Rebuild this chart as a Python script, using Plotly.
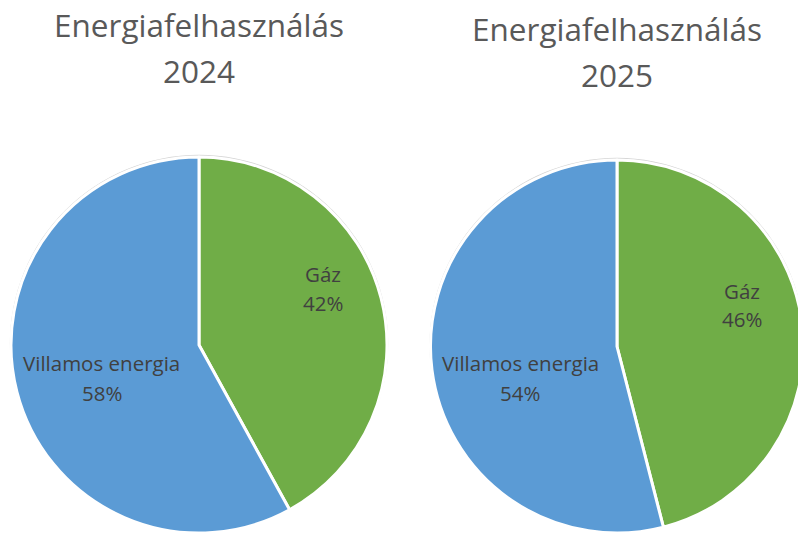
import plotly.graph_objects as go

title_text = "Energiafelhasználás"
years = ["2024", "2025"]
labels = ["Gáz", "Villamos energia"]
values_2024 = [42, 58]
values_2025 = [46, 54]
colors = ["#70AD47", "#5B9BD5"]

W, H = 810, 533

def dom_x(a, b):
    return [a / W, b / W]

def dom_y(top, bottom):
    return [1 - bottom / H, 1 - top / H]

pies = [
    (values_2024, (11, 387, 157, 533)),
    (values_2025, (430, 804, 160, 533)),
]

fig = go.Figure()
for vals, (x0, x1, y0, y1) in pies:
    e = 2.2
    # faint outline ring behind the pie
    fig.add_trace(go.Pie(
        values=[1], labels=[""], sort=False, textinfo="none", hoverinfo="skip",
        marker=dict(colors=["#d4d4d4"], line=dict(width=0)),
        domain=dict(x=[max(0, (x0 - e) / W), min(1, (x1 + e) / W)],
                    y=[max(0, 1 - (y1 + e) / H), min(1, 1 - (y0 - e) / H)]),
        showlegend=False,
    ))
    fig.add_trace(go.Pie(
        labels=labels, values=vals, sort=False, direction="clockwise", rotation=0,
        marker=dict(colors=colors, line=dict(color="white", width=3)),
        textinfo="none",
        domain=dict(x=dom_x(x0, x1), y=dom_y(y0, y1)), showlegend=False,
        hoverinfo="label+percent",
    ))

title_font = dict(family="Open Sans", size=31.5, color="#595959")
label_font = dict(family="Open Sans", size=20.5, color="#404040")

# title layout: (center x, line1 y, line2 y) in pixels
title_pos = [(198.5, 24, 71), (617, 28, 74)]
annos = []
for (cx, ya, yb), yr in zip(title_pos, years):
    annos.append(dict(x=cx / W, y=1 - ya / H, xref="paper", yref="paper", text=title_text,
                      showarrow=False, xanchor="center", yanchor="middle", font=title_font))
    annos.append(dict(x=cx / W, y=1 - yb / H, xref="paper", yref="paper", text=yr,
                      showarrow=False, xanchor="center", yanchor="middle", font=title_font))

# data label layout per pie: [(x, y line1, y line2) for each slice]
label_pos = [
    [(323, 274, 303), (102, 363, 393)],
    [(741.5, 291, 319), (520, 363, 393)],
]
for (vals, _), positions in zip(pies, label_pos):
    total = sum(vals)
    for lab, v, (lx, ly1, ly2) in zip(labels, vals, positions):
        annos.append(dict(x=lx / W, y=1 - ly1 / H, xref="paper", yref="paper", text=lab,
                          showarrow=False, xanchor="center", yanchor="middle", font=label_font))
        annos.append(dict(x=lx / W, y=1 - ly2 / H, xref="paper", yref="paper",
                          text=f"{round(100 * v / total)}%",
                          showarrow=False, xanchor="center", yanchor="middle", font=label_font))

fig.update_layout(width=W, height=H, margin=dict(l=0, r=0, t=0, b=0),
                  paper_bgcolor="white", plot_bgcolor="white", annotations=annos)

fig.write_html("out.html", config={"displayModeBar": False},
               post_script="document.body.style.margin='0';document.body.style.overflow='hidden';document.documentElement.style.overflow='hidden';")
